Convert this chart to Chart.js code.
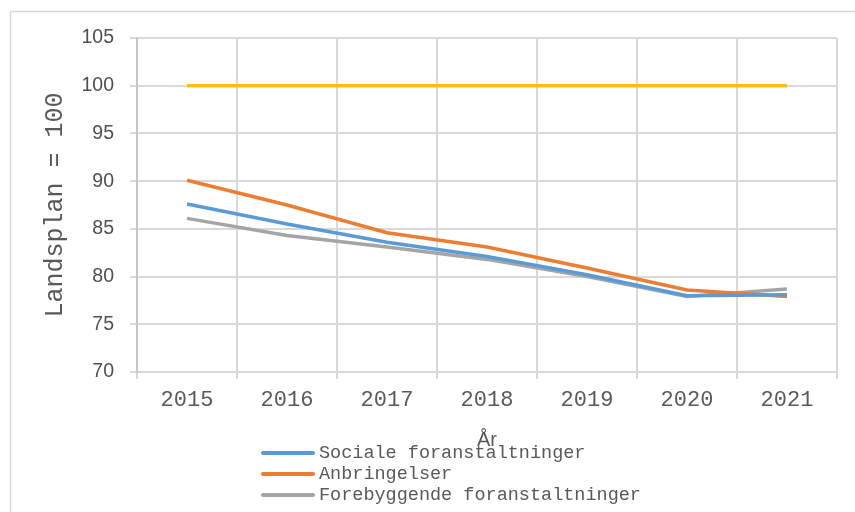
<!DOCTYPE html>
<html>
<head>
<meta charset="utf-8">
<script src="https://cdn.jsdelivr.net/npm/chart.js@4"></script>
<style>
  html, body { margin: 0; padding: 0; background: #fff; }
  #wrap { width: 855px; height: 512px; }
</style>
</head>
<body>
<div id="wrap"><canvas id="myChart" width="855" height="512"></canvas></div>
<script>
const years = ["2015", "2016", "2017", "2018", "2019", "2020", "2021"];
const landsplan = [100, 100, 100, 100, 100, 100, 100];
const sociale = [87.6, 85.5, 83.6, 82.1, 80.2, 78.0, 78.1];
const anbringelser = [90.1, 87.5, 84.6, 83.1, 80.9, 78.6, 77.9];
const forebyggende = [86.1, 84.3, 83.1, 81.8, 80.0, 77.9, 78.7];
const yTicks = [70, 75, 80, 85, 90, 95, 100, 105];

const grey = "#d9d9d9";
const textCol = "#595959";

// frame round the whole chart
const framePlugin = {
  id: "frame",
  beforeDraw(chart) {
    const ctx = chart.ctx;
    ctx.save();
    ctx.strokeStyle = grey;
    ctx.lineWidth = 1.5;
    ctx.beginPath();
    ctx.moveTo(10.5, 512);
    ctx.lineTo(10.5, 11.5);
    ctx.lineTo(855, 11.5);
    ctx.stroke();
    ctx.restore();
  }
};

// stacked legend under the axis title
const stackedLegend = {
  id: "stackedLegend",
  afterDraw(chart) {
    const ctx = chart.ctx;
    let y = 453;
    ctx.save();
    ctx.font = "18.5px 'Liberation Mono', monospace";
    ctx.textBaseline = "middle";
    ctx.textAlign = "left";
    chart.data.datasets.forEach(ds => {
      if (ds.noLegend) return;
      ctx.strokeStyle = ds.borderColor;
      ctx.lineWidth = 4;
      ctx.lineCap = "round";
      ctx.beginPath();
      ctx.moveTo(263, y);
      ctx.lineTo(313, y);
      ctx.stroke();
      ctx.fillStyle = textCol;
      ctx.fillText(ds.label, 319, y);
      y += 21;
    });
    ctx.restore();
  }
};

const data = {
  labels: years,
  datasets: [
    { label: "Landsplan", data: landsplan, borderColor: "#FFC000", noLegend: true },
    { label: "Sociale foranstaltninger", data: sociale, borderColor: "#5B9BD5" },
    { label: "Anbringelser", data: anbringelser, borderColor: "#ED7D31" },
    { label: "Forebyggende foranstaltninger", data: forebyggende, borderColor: "#A5A5A5" }
  ]
};
data.datasets.forEach(ds => {
  ds.borderWidth = 3.5;
  ds.pointRadius = 0;
  ds.tension = 0;
  ds.fill = false;
  ds.backgroundColor = ds.borderColor;
});

const config = {
  type: "line",
  data: data,
  options: {
    responsive: false,
    animation: false,
    layout: { padding: { left: 36, top: 38, right: 18, bottom: 56 } },
    plugins: { legend: { display: false }, tooltip: { enabled: false } },
    scales: {
      x: {
        offset: true,
        grid: { color: grey, lineWidth: 2, offset: true, tickLength: 7, tickColor: grey },
        border: { color: grey, width: 2 },
        ticks: { color: textCol, padding: 8, font: { family: "'Liberation Mono', monospace", size: 22 } },
        title: { display: true, text: "År", color: textCol, padding: 4, font: { family: "'Liberation Sans', sans-serif", size: 20 } },
        afterFit(scale) { scale.height = 84; }
      },
      y: {
        min: 70,
        max: 105,
        afterBuildTicks(scale) { scale.ticks = yTicks.map(v => ({ value: v })); },
        grid: { color: grey, lineWidth: 2, tickLength: 7, tickColor: grey },
        border: { color: "#c8c8c8", width: 2 },
        ticks: { color: "#505050", padding: 16, font: { family: "'Liberation Sans', sans-serif", size: 19.5 } },
        title: { display: true, text: "Landsplan = 100", color: textCol, padding: 4, font: { family: "'Liberation Mono', monospace", size: 25 } },
        afterFit(scale) { scale.width = 101; }
      }
    }
  },
  plugins: [framePlugin, stackedLegend]
};

const myChart = new Chart(document.getElementById("myChart"), config);
</script>
</body>
</html>
